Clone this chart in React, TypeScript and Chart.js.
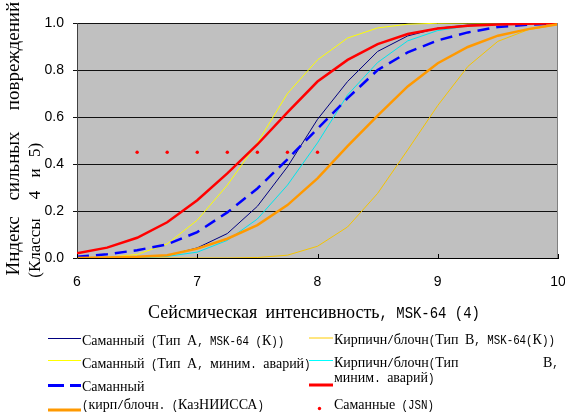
import React, { useEffect, useRef } from 'react';
import { Chart, registerables } from 'chart.js';

Chart.register(...registerables);

// ---- data ----
const X_VALUES = [6, 6.25, 6.5, 6.75, 7, 7.25, 7.5, 7.75, 8, 8.25, 8.5, 8.75, 9, 9.25, 9.5, 9.75, 10];
const SAMAN_A_MSK = [0, 0.001, 0.003, 0.01, 0.043, 0.104, 0.22, 0.388, 0.59, 0.751, 0.879, 0.945, 0.978, 0.991, 0.996, 0.998, 1.0];
const SAMAN_A_MIN = [0, 0.003, 0.015, 0.06, 0.161, 0.31, 0.49, 0.7, 0.843, 0.936, 0.979, 0.995, 0.999, 1, 1, 1, 1];
const SAMAN_KAZ = [0.005, 0.016, 0.033, 0.058, 0.11, 0.194, 0.296, 0.42, 0.55, 0.68, 0.8, 0.875, 0.926, 0.96, 0.983, 0.993, 0.997];
const KIRP_KAZ = [0, 0.002, 0.005, 0.012, 0.04, 0.082, 0.14, 0.225, 0.339, 0.476, 0.606, 0.73, 0.829, 0.898, 0.946, 0.974, 0.995];
const KIRP_B_MSK = [0, 0, 0, 0, 0, 0, 0.002, 0.012, 0.05, 0.132, 0.275, 0.46, 0.649, 0.815, 0.922, 0.971, 0.993];
const KIRP_B_MIN = [0, 0.001, 0.002, 0.007, 0.025, 0.075, 0.166, 0.31, 0.49, 0.694, 0.832, 0.924, 0.968, 0.987, 0.995, 0.998, 1.0];
const RED_SERIES = [0.02, 0.044, 0.086, 0.152, 0.246, 0.36, 0.483, 0.62, 0.751, 0.843, 0.91, 0.953, 0.977, 0.988, 0.994, 0.997, 0.999];
const JSN_X = [6.5, 6.75, 7, 7.25, 7.5, 7.75, 8];
const JSN_Y = [0.45, 0.45, 0.45, 0.45, 0.45, 0.45, 0.45];

const X_TICKS = [6, 7, 8, 9, 10];
const Y_TICKS = [0, 0.2, 0.4, 0.6, 0.8, 1.0];

const X_TITLE = 'Сейсмическая интенсивность, MSK-64 (4)';
const Y_TITLE_LINE1 = ['Индекс', 'сильных', 'повреждений'];
const Y_TITLE_LINE2 = ['(Классы', '4', 'и', '5)'];

const LABEL_NAVY = 'Саманный (Тип А, MSK-64 (К))';
const LABEL_YELLOW = 'Саманный (Тип А, миним. аварий)';
const LABEL_BLUE_1 = 'Саманный';
const LABEL_BLUE_2 = '(кирп/блочн. (КазНИИССА)';
const LABEL_GOLD = 'Кирпичн/блочн(Тип В, MSK-64(К))';
const LABEL_CYAN_1 = 'Кирпичн/блочн(Тип';
const LABEL_CYAN_1B = 'В,';
const LABEL_CYAN_2 = 'миним. аварий)';
const LABEL_JSN = 'Саманные (JSN)';

const toPoints = (ys: number[]) => X_VALUES.map((x, i) => ({ x, y: ys[i] }));

const SERIF = '"Liberation Serif", "Times New Roman", serif';
const MONO = '"Liberation Mono", "DejaVu Sans Mono", monospace';

function drawMixed(
  ctx: CanvasRenderingContext2D,
  text: string,
  x: number,
  y: number,
  serifPx: number,
  monoPx: number,
  monoSx: number,
  align: 'left' | 'center' = 'left'
) {
  const runs = text.match(/[\x00-\x7f]+|[^\x00-\x7f]+/g) || [];
  const isMono = runs.map((r) => r.charCodeAt(0) < 128);
  const fonts = runs.map((r, i) => (isMono[i] ? `${monoPx}px ${MONO}` : `${serifPx}px ${SERIF}`));
  const widths = runs.map((r, i) => {
    ctx.font = fonts[i];
    return ctx.measureText(r).width * (isMono[i] ? monoSx : 1);
  });
  const total = widths.reduce((a, b) => a + b, 0);
  let cx = align === 'center' ? x - total / 2 : x;
  ctx.textAlign = 'left';
  ctx.textBaseline = 'alphabetic';
  runs.forEach((r, i) => {
    ctx.font = fonts[i];
    if (isMono[i]) {
      ctx.save();
      ctx.translate(cx, y);
      ctx.scale(monoSx, 1);
      ctx.fillText(r, 0, 0);
      ctx.restore();
    } else {
      ctx.fillText(r, cx, y);
    }
    cx += widths[i];
  });
}

function drawRot(ctx: CanvasRenderingContext2D, text: string, x: number, yc: number, font: string) {
  ctx.save();
  ctx.translate(x, yc);
  ctx.rotate(-Math.PI / 2);
  ctx.font = font;
  ctx.textAlign = 'center';
  ctx.textBaseline = 'alphabetic';
  ctx.fillText(text, 0, 0);
  ctx.restore();
}

function sample(ctx: CanvasRenderingContext2D, x1: number, x2: number, y: number, color: string, w: number, dash: number[] = []) {
  ctx.save();
  ctx.strokeStyle = color;
  ctx.lineWidth = w;
  ctx.setLineDash(dash);
  ctx.beginPath();
  ctx.moveTo(x1, y);
  ctx.lineTo(x2, y);
  ctx.stroke();
  ctx.restore();
}

const decorPlugin = {
  id: 'decor',
  beforeDraw(chart: any) {
    const { ctx, chartArea: a } = chart;
    ctx.save();
    ctx.fillStyle = '#ffffff';
    ctx.fillRect(0, 0, chart.width, chart.height);
    ctx.fillStyle = '#c0c0c0';
    ctx.fillRect(a.left, a.top, a.right - a.left, a.bottom - a.top);
    ctx.restore();
  },
  afterDraw(chart: any) {
    const { ctx, chartArea: a } = chart;
    const xs = chart.scales.x;
    ctx.save();
    // right border
    ctx.strokeStyle = '#808080';
    ctx.lineWidth = 1;
    ctx.beginPath();
    ctx.moveTo(Math.round(a.right) - 0.5, a.top);
    ctx.lineTo(Math.round(a.right) - 0.5, a.bottom);
    ctx.stroke();
    // inner x tick marks
    ctx.strokeStyle = '#000';
    X_TICKS.forEach((v) => {
      const px = Math.round(xs.getPixelForValue(v)) + 0.5;
      ctx.beginPath();
      ctx.moveTo(px, a.bottom);
      ctx.lineTo(px, a.bottom - 4);
      ctx.stroke();
    });
    ctx.fillStyle = '#000';
    // x title
    drawMixed(ctx, X_TITLE, 314, 318, 18, 17, 0.82, 'center');
    // y title
    const f1 = `19px ${SERIF}`;
    drawRot(ctx, Y_TITLE_LINE1[0], 18.5, 246, f1);
    drawRot(ctx, Y_TITLE_LINE1[1], 18.5, 166, f1);
    drawRot(ctx, Y_TITLE_LINE1[2], 18.5, 56, f1);
    const f2 = `17px ${SERIF}`;
    drawRot(ctx, Y_TITLE_LINE2[0], 39.5, 248, f2);
    drawRot(ctx, Y_TITLE_LINE2[1], 39.5, 195, f2);
    drawRot(ctx, Y_TITLE_LINE2[2], 39.5, 173, f2);
    drawRot(ctx, Y_TITLE_LINE2[3], 39.5, 150, f2);
    // legend samples
    sample(ctx, 48, 81, 338.5, '#000080', 1);
    sample(ctx, 48, 81, 360.5, '#ffff00', 1);
    sample(ctx, 48, 81, 385.5, '#0000ff', 3, [16, 6]);
    sample(ctx, 48, 81, 410, '#ff9900', 3);
    sample(ctx, 309, 333, 338, '#ffcc00', 1);
    sample(ctx, 309, 333, 360.5, '#00ffff', 1);
    sample(ctx, 309, 333, 385, '#ff0000', 3);
    ctx.fillStyle = '#ff0000';
    ctx.beginPath();
    ctx.arc(319.5, 408.5, 1.7, 0, Math.PI * 2);
    ctx.fill();
    // legend texts
    ctx.fillStyle = '#000';
    const mono = 13.5;
    const sx = 0.8;
    drawMixed(ctx, LABEL_NAVY, 82, 344.5, 14, mono, sx);
    drawMixed(ctx, LABEL_YELLOW, 82, 367.5, 14, mono, sx);
    drawMixed(ctx, LABEL_BLUE_1, 82, 391, 14, mono, sx);
    drawMixed(ctx, LABEL_BLUE_2, 82, 408.5, 14, mono, sx);
    drawMixed(ctx, LABEL_GOLD, 334, 343.5, 14, mono, sx);
    drawMixed(ctx, LABEL_CYAN_1, 334, 366.5, 14, mono, sx);
    drawMixed(ctx, LABEL_CYAN_1B, 543, 366.5, 14, mono, sx);
    drawMixed(ctx, LABEL_CYAN_2, 334, 381.7, 14, mono, sx);
    drawMixed(ctx, LABEL_JSN, 334, 408.5, 14, mono, sx);
    ctx.restore();
  },
};

export default function App() {
  const ref = useRef<HTMLCanvasElement | null>(null);

  useEffect(() => {
    if (!ref.current) return;
    const line = (label: string, ys: number[], color: string, width: number, dash: number[] = []) => ({
      type: 'line' as const,
      label,
      data: toPoints(ys),
      borderColor: color,
      backgroundColor: color,
      borderWidth: width,
      borderDash: dash,
      pointRadius: 0,
      pointHoverRadius: 0,
      tension: 0,
      fill: false,
    });
    const chart = new Chart(ref.current, {
      type: 'line',
      data: {
        datasets: [
          {
            type: 'line',
            label: LABEL_JSN,
            data: JSN_X.map((x, i) => ({ x, y: JSN_Y[i] })),
            showLine: false,
            pointRadius: 1.7,
            pointBorderWidth: 0,
            pointBackgroundColor: '#ff0000',
            borderColor: '#ff0000',
            backgroundColor: '#ff0000',
          },
          line(LABEL_BLUE_2, KIRP_KAZ, '#ff9900', 2.5),
          line('Саманный', RED_SERIES, '#ff0000', 2.5),
          line(LABEL_BLUE_1, SAMAN_KAZ, '#0000ff', 2.5, [12, 7]),
          line(LABEL_CYAN_1 + ' ' + LABEL_CYAN_1B + ' ' + LABEL_CYAN_2, KIRP_B_MIN, '#00e5ee', 1),
          line(LABEL_YELLOW, SAMAN_A_MIN, '#ffff00', 1),
          line(LABEL_GOLD, KIRP_B_MSK, '#f5c400', 1),
          line(LABEL_NAVY, SAMAN_A_MSK, '#000080', 1),
        ] as any,
      },
      options: {
        responsive: false,
        animation: false,
        devicePixelRatio: 1,
        layout: { padding: { top: 23, right: 7, bottom: 0, left: 0 } },
        plugins: {
          legend: { display: false },
          tooltip: { enabled: false },
          title: { display: false },
        },
        scales: {
          x: {
            type: 'linear',
            min: 6,
            max: 10,
            afterBuildTicks: (s: any) => {
              s.ticks = X_TICKS.map((v) => ({ value: v }));
            },
            afterFit: (s: any) => {
              s.height = 156;
              s.paddingLeft = 0;
              s.paddingRight = 0;
            },
            ticks: {
              color: '#000',
              padding: 16,
              maxRotation: 0,
              autoSkip: false,
              font: { family: '"Liberation Sans", Arial, sans-serif', size: 14 },
              callback: (v: any) => String(v),
            },
            grid: { display: true, drawOnChartArea: false, drawTicks: false },
            border: { display: true, color: '#000', width: 1 },
          },
          y: {
            type: 'linear',
            min: 0,
            max: 1,
            afterBuildTicks: (s: any) => {
              s.ticks = Y_TICKS.map((v) => ({ value: v }));
            },
            afterFit: (s: any) => {
              s.width = 77;
            },
            ticks: {
              color: '#000',
              padding: 9,
              font: { family: '"Liberation Sans", Arial, sans-serif', size: 14 },
              callback: (v: any) => Number(v).toFixed(1),
            },
            grid: { color: '#111', lineWidth: 1, tickLength: 4, drawTicks: true },
            border: { display: true, color: '#404040', width: 1 },
          },
        },
      } as any,
      plugins: [decorPlugin],
    });
    return () => chart.destroy();
  }, []);

  return (
    <div style={{ position: 'absolute', left: 0, top: 0, width: 565, height: 414, background: '#fff' }}>
      <canvas ref={ref} width={565} height={414} style={{ display: 'block', width: 565, height: 414 }} />
    </div>
  );
}
